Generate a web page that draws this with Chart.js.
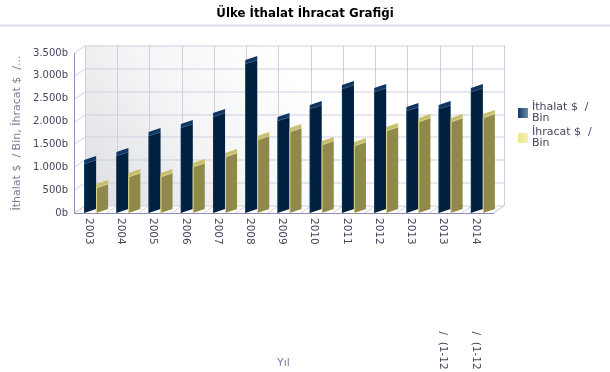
<!DOCTYPE html>
<html>
<head>
<meta charset="utf-8">
<script src="https://cdn.jsdelivr.net/npm/chart.js@4"></script>
<style>
  body { margin: 0; background: #fff; }
  #wrap { width: 610px; height: 372px; position: relative; }
</style>
</head>
<body>
<div id="wrap"><canvas id="ticaretChart" width="610" height="372"></canvas></div>
<script>
var categories = ["2003", "2004", "2005", "2006", "2007", "2008", "2009", "2010", "2011", "2012", "2013", "2013                          /  (1-12", "2014                          /  (1-12"];
var ithalat = [1072, 1247, 1685, 1860, 2100, 3260, 2013, 2276, 2713, 2648, 2232, 2276, 2648];
var ihracat = [547, 788, 788, 1007, 1225, 1597, 1772, 1488, 1466, 1794, 1991, 1991, 2079];
var seriesNames = [["İthalat $  /", "Bin"], ["İhracat $  /", "Bin"]];

var FONT = "'DejaVu Sans'";
var TEXT = "#45455f";
var AXIS_TITLE = "#7d7da0";
var GRID = "#cfcfe0";
var AXIS = "#8f8fb5";
var DX = 11, DY = 7.5;

// walls, floor and grid behind the bars
var walls = {
  id: "walls",
  beforeDatasetsDraw: function (chart) {
    var c = chart.ctx, a = chart.chartArea, y = chart.scales.y;
    c.save();
    var g = c.createLinearGradient(a.left + DX, a.bottom - DY, a.left + DX + 190, a.bottom - DY - 155);
    g.addColorStop(0, "#dddee2");
    g.addColorStop(0.55, "#f4f5f6");
    g.addColorStop(1, "#ffffff");
    c.fillStyle = g;
    c.fillRect(a.left + DX, a.top - DY, a.right - a.left, a.bottom - a.top);
    c.strokeStyle = GRID;
    c.lineWidth = 1;
    y.ticks.forEach(function (t) {
      var py = Math.round(y.getPixelForValue(t.value)) + 0.5;
      c.beginPath();
      c.moveTo(a.left, py);
      c.lineTo(a.left + DX, py - DY);
      c.lineTo(a.right + DX, py - DY);
      c.stroke();
    });
    var n = categories.length;
    for (var i = 0; i <= n; i++) {
      var px = Math.round(a.left + (a.right - a.left) * i / n) + 0.5;
      c.beginPath();
      c.moveTo(px, a.bottom);
      c.lineTo(px + DX, a.bottom - DY);
      c.lineTo(px + DX, a.top - DY);
      c.stroke();
    }
    c.beginPath();
    c.moveTo(a.right + DX + 0.5, a.top - DY);
    c.lineTo(a.right + DX + 0.5, a.bottom - DY);
    c.lineTo(a.right + 0.5, a.bottom);
    c.stroke();
    c.strokeStyle = AXIS;
    c.lineWidth = 1;
    c.beginPath();
    c.moveTo(a.left + 0.5, a.top);
    c.lineTo(a.left + 0.5, a.bottom + 0.5);
    c.lineTo(a.right + 1, a.bottom + 0.5);
    c.stroke();
    c.restore();
  }
};

// slanted 3D faces built from the bar elements
var bars3d = {
  id: "bars3d",
  afterDatasetsDraw: function (chart) {
    var c = chart.ctx;
    var looks = [
      { face: "#00203f", cap: "#0f3660", seam: "#2c5580", edge: "#0d3a6a" },
      { face: "#8f8a4c", cap: "#c8c06c", seam: "#d8d298", edge: "#f0e88c" }
    ];
    c.save();
    chart.data.datasets.forEach(function (ds, d) {
      chart.getDatasetMeta(d).data.forEach(function (bar) {
        var w = bar.width, l = bar.x - w / 2 + 6, r = l + w;
        var top = bar.y, base = bar.base, rise = 4;
        c.fillStyle = looks[d].face;
        c.beginPath();
        c.moveTo(l, base);
        c.lineTo(r, base - rise);
        c.lineTo(r, top - rise);
        c.lineTo(l, top);
        c.closePath();
        c.fill();
        c.fillStyle = looks[d].cap;
        c.beginPath();
        c.moveTo(l, top);
        c.lineTo(r, top - rise);
        c.lineTo(r, top - rise - 4);
        c.lineTo(l, top - 4);
        c.closePath();
        c.fill();
        c.strokeStyle = looks[d].seam;
        c.lineWidth = 0.7;
        c.beginPath();
        c.moveTo(l, top);
        c.lineTo(r, top - rise);
        c.stroke();
        c.strokeStyle = looks[d].edge;
        c.lineWidth = d === 1 ? 0.8 : 0.6;
        c.beginPath();
        c.moveTo(l + 0.4, base);
        c.lineTo(l + 0.4, top);
        c.stroke();
      });
    });
    c.restore();
  }
};

// rotated category labels and the legend
var labelsAndLegend = {
  id: "labelsAndLegend",
  afterDraw: function (chart) {
    var c = chart.ctx, x = chart.scales.x, a = chart.chartArea;
    c.save();
    c.font = "10.5px " + FONT;
    c.fillStyle = TEXT;
    c.textAlign = "left";
    c.textBaseline = "middle";
    categories.forEach(function (label, i) {
      c.save();
      c.translate(x.getPixelForValue(i) - 1.5, a.bottom + 5);
      c.rotate(Math.PI / 2);
      c.fillText(label, 0, 0);
      c.restore();
    });
    var swatches = [["#0f3a6c", "#6e8cab"], ["#f0e68c", "#f6f0b4"]];
    seriesNames.forEach(function (lines, i) {
      var top = 108 + i * 25;
      var g = c.createLinearGradient(518, 0, 528, 0);
      g.addColorStop(0, swatches[i][0]);
      g.addColorStop(1, swatches[i][1]);
      c.fillStyle = g;
      c.fillRect(518, top, 10, 10);
      c.fillStyle = TEXT;
      c.font = "11px " + FONT;
      lines.forEach(function (t, j) {
        c.fillText(t, 532, top - 1 + j * 11.5);
      });
    });
    c.strokeStyle = "#dcdce8";
    c.lineWidth = 2;
    c.beginPath();
    c.moveTo(0, 25.5);
    c.lineTo(610, 25.5);
    c.stroke();
    c.fillStyle = "#000";
    c.font = "bold 11.8px " + FONT;
    c.textAlign = "center";
    c.fillText("Ülke İthalat İhracat Grafiği", 305, 14);
    c.restore();
  }
};

new Chart(document.getElementById("ticaretChart"), {
  type: "bar",
  data: {
    labels: categories,
    datasets: [
      { label: "İthalat $ / Bin", data: ithalat, backgroundColor: "transparent", barThickness: 12 },
      { label: "İhracat $ / Bin", data: ihracat, backgroundColor: "transparent", barThickness: 12 }
    ]
  },
  options: {
    responsive: false,
    animation: false,
    layout: { padding: { left: 11, right: 117, top: 53, bottom: 2 } },
    plugins: { legend: { display: false }, title: { display: false }, tooltip: { enabled: false } },
    scales: {
      x: {
        grid: { display: false },
        border: { display: false },
        ticks: { display: false },
        title: { display: true, text: "Yıl", color: AXIS_TITLE, font: { family: FONT, size: 11 }, padding: 0 },
        afterFit: function (s) { s.height = 157; }
      },
      y: {
        min: 0,
        max: 3500,
        grid: { display: false, drawTicks: false },
        border: { display: false },
        ticks: {
          stepSize: 250,
          color: TEXT,
          font: { family: FONT, size: 10 },
          padding: 6,
          callback: function (v) {
            if (v % 500 !== 0) return "";
            return v === 0 ? "0b" : String(v).replace(/(\d)(\d{3})$/, "$1.$2") + "b";
          }
        },
        title: { display: true, text: "İthalat $  / Bin, İhracat $  /...", color: AXIS_TITLE, font: { family: FONT, size: 11 }, padding: 0 },
        afterFit: function (s) { s.width = 63; }
      }
    }
  },
  plugins: [walls, bars3d, labelsAndLegend]
});
</script>
</body>
</html>
